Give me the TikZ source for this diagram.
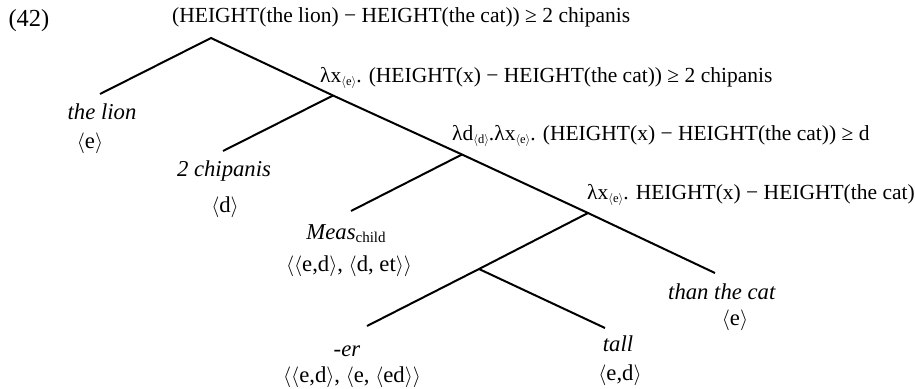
\documentclass[tikz,border=0pt]{standalone}
\usepackage{fontspec}
\setmainfont{Liberation Serif}
\newcommand\Lb{$\langle$}
\newcommand\Rb{$\rangle$}
\newcommand\tsub[1]{\raisebox{-3.5pt}{\fontsize{12.5}{13}\selectfont #1}}
\begin{document}
\begin{tikzpicture}[x=1pt,y=-1pt,font=\fontsize{21.5}{26}\selectfont,
  br/.style={line width=2pt},
  lbl/.style={inner sep=0pt,anchor=west},
  leaf/.style={inner sep=0pt,font=\fontsize{22.7}{27}\selectfont}]
\useasboundingbox (0,0) rectangle (915,388);
% tree points
\coordinate (R) at (211,38);
\coordinate (N2) at (333,95.5);
\coordinate (N3) at (462,154.5);
\coordinate (N4) at (588,213);
\coordinate (N5) at (479,269);
\coordinate (Lion) at (100,94);
\coordinate (Chip) at (223,151);
\coordinate (Meas) at (351,211);
\coordinate (Cat) at (715,273);
\coordinate (Er) at (367,326);
\coordinate (Tall) at (605,328);
% branches
\draw[br] (Lion) -- (R) -- (N2) -- (N3) -- (N4) -- (Cat);
\draw[br] (N2) -- (Chip);
\draw[br] (N3) -- (Meas);
\draw[br] (N4) -- (N5) -- (Er);
\draw[br] (N5) -- (Tall);
% number
\node[leaf,font=\fontsize{24.5}{28}\selectfont] (num) at (29,21) {(42)};
% inner labels
\node[lbl] (l1) at (172,17) {(HEIGHT(the lion) − HEIGHT(the cat)) ≥ 2 chipanis};
\node[lbl] (l2) at (320,78) {λx\tsub{\Lb e\Rb}. (HEIGHT(x) − HEIGHT(the cat)) ≥ 2 chipanis};
\node[lbl] (l3) at (452,136) {λd\tsub{\Lb d\Rb}.λx\tsub{\Lb e\Rb}. (HEIGHT(x) − HEIGHT(the cat)) ≥ d};
\node[lbl] (l4) at (587,195) {λx\tsub{\Lb e\Rb}. HEIGHT(x) − HEIGHT(the cat)};
% leaves
\node[leaf] (tlion) at (102,112) {\textit{the lion}};
\node[leaf] (tlione) at (90,143) {\Lb e\Rb};
\node[leaf] (tchip) at (224,171) {\textit{2 chipanis}};
\node[leaf] (tchipd) at (225,207) {\Lb d\Rb};
\node[leaf] (tmeas) at (346,234) {\textit{Meas}\raisebox{-3pt}{\fontsize{15}{16}\selectfont child}};
\node[leaf] (tmeast) at (349,266) {\Lb\Lb e,d\Rb, \Lb d, et\Rb\Rb};
\node[leaf] (ter) at (347,351) {\textit{-er}};
\node[leaf] (tert) at (352,377) {\Lb\Lb e,d\Rb, \Lb e, \Lb ed\Rb\Rb};
\node[leaf] (ttall) at (618,344) {\textit{tall}};
\node[leaf] (ttallt) at (620,375) {\Lb e,d\Rb};
\node[leaf] (tcat) at (722,292) {\textit{than the cat}};
\node[leaf] (tcate) at (735,320) {\Lb e\Rb};
\end{tikzpicture}
\end{document}
